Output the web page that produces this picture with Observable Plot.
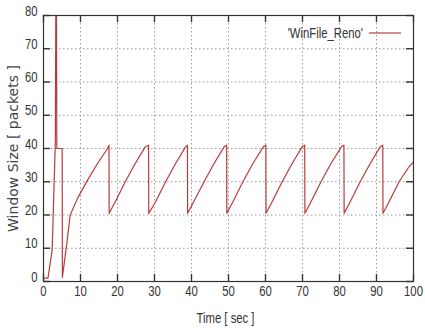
<!DOCTYPE html>
<html><head><meta charset="utf-8">
<script src="https://cdn.jsdelivr.net/npm/d3@7"></script>
<script src="https://cdn.jsdelivr.net/npm/@observablehq/plot@0.6"></script>
<style>body{margin:0;background:#fff}</style>
</head><body><div id="chart"></div>
<script>
const seriesName = "'WinFile_Reno'";
const xLabel = "Time [ sec ]";
const yLabel = "Window Size [ packets ]";
const xTicks = [0, 10, 20, 30, 40, 50, 60, 70, 80, 90, 100];
const yTicks = [0, 10, 20, 30, 40, 50, 60, 70, 80];
const time = [0, 1.2, 2.35, 3.2, 3.45, 3.6, 5.05, 5.1, 6.4, 7.2,
  9.2, 11.9, 14.6, 17.3, 17.7, 17.75,
  19.4, 22.1, 24.8, 27.5, 28.4, 28.45,
  30.3, 33.0, 35.7, 38.4, 38.9, 38.95,
  40.6, 43.4, 46.1, 48.8, 49.5, 49.55,
  51.2, 53.9, 56.6, 59.4, 60.1, 60.15,
  61.8, 64.5, 67.2, 69.9, 70.6, 70.65,
  72.3, 75.0, 77.7, 80.5, 81.2, 81.25,
  82.9, 85.6, 88.3, 91.0, 91.7, 91.75,
  93.4, 96.1, 98.8, 100];
const cwnd = [1, 1, 9.5, 42, 120, 40, 40, 1.2, 12.3, 20,
  25, 30.5, 35.5, 40, 41, 20.5,
  24, 30, 35.5, 40.5, 41, 20.5,
  24, 30, 35.5, 40.5, 41, 20.5,
  24, 30, 35.5, 40.5, 41, 20.5,
  24, 30, 35.5, 40.5, 41, 20.5,
  24, 30, 35.5, 40.5, 41, 20.5,
  24, 30, 35.5, 40.5, 41, 20.5,
  24, 30, 35.5, 40.5, 41, 20.5,
  24, 30, 34.5, 36];

const data = time.map((t, i) => ({t, w: cwnd[i]}));
const W = 425, H = 336, mL = 43, mR = 12, mT = 15, mB = 55;
const plotH = H - mT - mB, plotW = W - mL - mR;
const tickLen = 7;
const narrowFont = "'Liberation Sans', Arial, sans-serif";
const squeeze = 0.78;
const lineColor = "#b83c3c";
const tickStyle = {stroke: "#333", strokeWidth: 1.4};

const chart = Plot.plot({
  width: W, height: H,
  marginLeft: mL, marginRight: mR, marginTop: mT, marginBottom: mB,
  style: {fontFamily: narrowFont, fontSize: "14.5px", color: "#333", background: "#fff"},
  x: {domain: [0, 100]},
  y: {domain: [0, 80]},
  marks: [
    Plot.ruleX(xTicks.slice(1, -1), {x: d => d, stroke: "#999", strokeDasharray: "1.5,2.5"}),
    Plot.ruleY(yTicks.slice(1, -1), {y: d => d, stroke: "#999", strokeDasharray: "1.5,2.5"}),
    Plot.tickX(xTicks, {x: d => d, insetTop: plotH - tickLen, ...tickStyle}),
    Plot.tickX(xTicks, {x: d => d, insetBottom: plotH - tickLen, ...tickStyle}),
    Plot.tickY(yTicks, {y: d => d, insetRight: plotW - tickLen, ...tickStyle}),
    Plot.tickY(yTicks, {y: d => d, insetLeft: plotW - tickLen, ...tickStyle}),
    Plot.line(data, {x: "t", y: "w", stroke: lineColor, strokeWidth: 1.2, clip: true}),
    Plot.frame({stroke: "#333", strokeWidth: 1.2}),
    Plot.axisX({ticks: xTicks, tickSize: 0, tickPadding: 14, label: null}),
    Plot.axisY({ticks: yTicks, tickSize: 0, tickPadding: 6, label: null}),
    Plot.text([xLabel], {text: d => d, frameAnchor: "bottom", lineAnchor: "middle", textAnchor: "middle", dy: 41, dx: -3, fontSize: 14.5, fill: "#333"}),
    Plot.text([yLabel], {text: d => d, frameAnchor: "left", textAnchor: "middle", lineAnchor: "middle", rotate: -90, dx: -30, fontSize: 14, fill: "#444", fontFamily: "'DejaVu Sans', sans-serif"})
  ]
});

const svg = d3.select(chart);
svg.append("text")
  .attr("x", 363).attr("y", 33)
  .attr("text-anchor", "end").attr("dy", "0.35em")
  .attr("font-family", narrowFont).attr("font-size", 14.5).attr("fill", "#333")
  .text(seriesName);
svg.append("line")
  .attr("x1", 369).attr("x2", 401).attr("y1", 33).attr("y2", 33)
  .attr("stroke", lineColor).attr("stroke-width", 1.2);

// emulate the narrow (condensed) face of the original by squeezing text horizontally
svg.selectAll("text").each(function() {
  if (this.textContent === yLabel) return;
  const t = this.getAttribute("transform") || "";
  const x = +this.getAttribute("x") || 0, y = +this.getAttribute("y") || 0;
  this.removeAttribute("x"); this.removeAttribute("y");
  this.setAttribute("transform", `${t} translate(${x},${y}) scale(${squeeze},1)`);
});

document.getElementById("chart").appendChild(chart);
</script>
</body></html>
